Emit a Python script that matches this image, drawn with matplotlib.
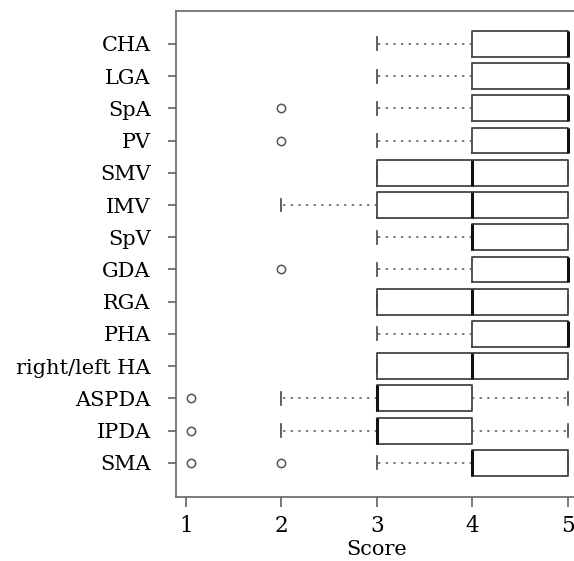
import matplotlib
matplotlib.use("Agg")
import matplotlib.pyplot as plt

categories = ["CHA", "LGA", "SpA", "PV", "SMV", "IMV", "SpV", "GDA", "RGA",
              "PHA", "right/left HA", "ASPDA", "IPDA", "SMA"]
whislo = [3, 3, 3, 3, 3, 2, 3, 3, 3, 3, 3, 2, 2, 3]
q1     = [4, 4, 4, 4, 3, 3, 4, 4, 3, 4, 3, 3, 3, 4]
med    = [5, 5, 5, 5, 4, 4, 4, 5, 4, 5, 4, 3, 3, 4]
q3     = [5, 5, 5, 5, 5, 5, 5, 5, 5, 5, 5, 4, 4, 5]
whishi = [5, 5, 5, 5, 5, 5, 5, 5, 5, 5, 5, 5, 5, 5]
fliers = [[], [], [2], [2], [], [], [], [2], [], [], [], [1.05], [1.05], [1.05, 2]]
xticks = [1, 2, 3, 4, 5]

plt.rcParams['font.family'] = ['DejaVu Serif']

fig = plt.figure(figsize=(5.74, 5.61), dpi=100)
ax = fig.add_axes([175.7/574, (561-497)/561, (578-175.7)/574, (497-10.7)/561])

n = len(categories)
positions = list(range(n, 0, -1))
stats = []
for i in range(n):
    stats.append(dict(whislo=whislo[i], q1=q1[i], med=med[i], q3=q3[i],
                      whishi=whishi[i], fliers=fliers[i], label=categories[i]))

ax.bxp(stats, positions=positions, vert=False, widths=0.8, capwidths=0.4,
       showfliers=True, patch_artist=False,
       boxprops=dict(color="#444444", linewidth=1.3),
       medianprops=dict(color="#111111", linewidth=2.2, solid_capstyle="butt"),
       whiskerprops=dict(color="#555555", linewidth=1.1, linestyle=(0, (1.5, 3.5))),
       capprops=dict(color="#444444", linewidth=1.2),
       flierprops=dict(marker="o", markersize=6, markerfacecolor="white",
                       markeredgecolor="#555555", markeredgewidth=1.1, linestyle="none"))

ax.set_xlim(0.892, 5.108)
ax.set_ylim(1 - 1.06, n + 1.03)
ax.set_yticks(positions)
ax.set_yticklabels(categories)
ax.set_xticks(xticks)
ax.set_xticklabels([str(t) for t in xticks])
ax.tick_params(axis="y", length=6, width=1.1, color="#555555", pad=12, labelsize=15)
ax.tick_params(axis="x", length=7, width=1.1, color="#555555", pad=6, labelsize=15.5)
for s in ax.spines.values():
    s.set_color("#666666")
    s.set_linewidth(1.2)
ax.set_xlabel("Score", fontsize=15, labelpad=2)

fig.savefig("out.png", dpi=100)
